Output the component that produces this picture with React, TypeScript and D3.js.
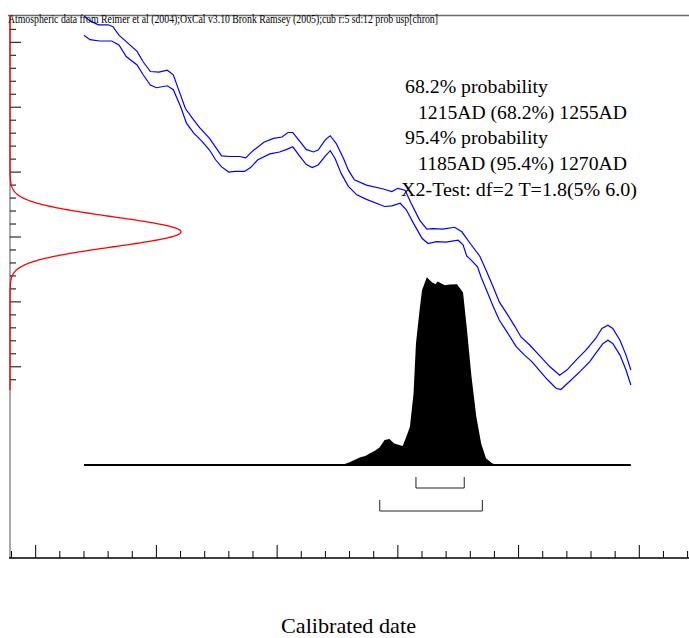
import React from 'react';
import * as d3 from 'd3';

// ---- Data ----
const titleText = 'Atmospheric data from Reimer et al (2004);OxCal v3.10 Bronk Ramsey (2005);cub r:5 sd:12 prob usp[chron]';
const statLines = [
  '68.2% probability',
  '1215AD (68.2%) 1255AD',
  '95.4% probability',
  '1185AD (95.4%) 1270AD',
  'X2-Test: df=2 T=1.8(5% 6.0)',
];
const xAxisLabel = 'Calibrated date';

// calibration curve, upper (+1 sigma) line: calendar year AD, radiocarbon BP
const upperYears = [940, 945, 952, 960, 964, 969, 975, 984, 989, 995, 1002, 1009, 1014, 1018, 1024, 1031, 1036, 1044, 1054, 1061, 1069, 1074, 1080, 1089, 1097, 1104, 1109, 1113, 1119, 1124, 1130, 1134, 1140, 1144, 1149, 1155, 1159, 1164, 1174, 1188, 1195, 1200, 1206, 1211, 1218, 1224, 1229, 1237, 1247, 1253, 1260, 1268, 1273, 1279, 1284, 1291, 1297, 1302, 1309, 1317, 1326, 1334, 1340, 1348, 1356, 1364, 1369, 1374, 1378, 1384, 1389, 1393];
const upperBP = [1141, 1133, 1127, 1127, 1124, 1111, 1101, 1086, 1070, 1055, 1054, 1057, 1050, 1029, 998, 980, 968, 952, 925, 924, 924, 922, 933, 946, 952, 954, 961, 961, 947, 935, 931, 934, 950, 956, 944, 921, 903, 888, 880, 874, 870, 875, 872, 852, 826, 812, 813, 812, 815, 808, 790, 770, 749, 723, 700, 680, 662, 646, 634, 618, 600, 587, 595, 611, 626, 644, 659, 664, 659, 641, 618, 595];

// calibration curve, lower (-1 sigma) line
const lowerYears = [940, 945, 953, 963, 969, 975, 984, 989, 995, 1000, 1009, 1014, 1020, 1025, 1031, 1038, 1044, 1049, 1054, 1060, 1065, 1073, 1078, 1084, 1094, 1102, 1108, 1113, 1119, 1124, 1129, 1134, 1140, 1144, 1148, 1153, 1159, 1166, 1174, 1189, 1195, 1202, 1207, 1213, 1220, 1225, 1232, 1240, 1250, 1254, 1257, 1261, 1266, 1269, 1275, 1279, 1284, 1291, 1298, 1305, 1311, 1317, 1324, 1331, 1335, 1342, 1351, 1359, 1364, 1370, 1374, 1378, 1384, 1389, 1393];
const lowerBP = [1111, 1104, 1102, 1102, 1096, 1078, 1065, 1050, 1034, 1030, 1033, 1027, 1001, 975, 960, 947, 934, 919, 908, 900, 901, 901, 907, 919, 928, 931, 935, 939, 924, 912, 907, 911, 925, 933, 921, 898, 878, 865, 858, 847, 848, 852, 842, 821, 798, 790, 793, 792, 795, 788, 771, 764, 754, 738, 711, 693, 672, 652, 631, 618, 608, 595, 580, 567, 565, 577, 593, 608, 621, 636, 641, 636, 618, 595, 572];

// calibrated (posterior) distribution
const postYears = [1150, 1156, 1160, 1164, 1169, 1173, 1177, 1181, 1185, 1189, 1193, 1197, 1202, 1204, 1207, 1210, 1213, 1215, 1218, 1220, 1224, 1228, 1231, 1233, 1236, 1239, 1243, 1249, 1254, 1257, 1261, 1265, 1269, 1273, 1278, 1282];
const postProb = [0, 0.005, 0.014, 0.027, 0.041, 0.048, 0.062, 0.076, 0.094, 0.133, 0.138, 0.115, 0.105, 0.101, 0.151, 0.204, 0.381, 0.647, 0.824, 0.931, 1, 0.975, 0.963, 0.977, 0.967, 0.958, 0.961, 0.963, 0.919, 0.736, 0.47, 0.257, 0.115, 0.036, 0.009, 0];
const postRange = [940, 1393];

// ranges
const range68 = [1215, 1255];
const range95 = [1185, 1270];

// radiocarbon measurement
const c14Mean = 808;
const c14Sd = 23;
const c14Span = [564, 1142];

// axis ticks
const xTickValues = d3.range(880, 1441, 20);
const yTickValues = d3.range(580, 1121, 20);

const FONT = '"Liberation Serif", "Times New Roman", serif';

export default function App() {
  const x = d3.scaleLinear().domain([1000, 1400]).range([156.4, 639.3]);
  const y = d3.scaleLinear().domain([800, 1100]).range([237, 42.3]);
  const pY = d3.scaleLinear().domain([0, 1]).range([465, 277.3]);
  const gX = d3.scaleLinear().domain([0, 1]).range([10, 181]);

  const line = d3.line<[number, number]>().x((d) => x(d[0])).y((d) => y(d[1]));
  const upperPath = line(upperYears.map((yr, i) => [yr, upperBP[i]]));
  const lowerPath = line(lowerYears.map((yr, i) => [yr, lowerBP[i]]));

  const area = d3
    .area<[number, number]>()
    .x((d) => x(d[0]))
    .y0(pY(0))
    .y1((d) => pY(d[1]));
  const postPath = area(postYears.map((yr, i) => [yr, postProb[i]]));

  const bpSamples = d3.range(c14Span[0], c14Span[1] + 0.5, 1);
  const gauss = d3
    .line<number>()
    .x((bp) => gX(Math.exp(-((bp - c14Mean) ** 2) / (2 * c14Sd * c14Sd))))
    .y((bp) => y(bp));
  const redPath = gauss(bpSamples);

  const bracket = (r: number[], top: number, bottom: number) =>
    `M${x(r[0])},${top}V${bottom}H${x(r[1])}V${top}`;

  const statX = [405, 418, 405, 418, 401];
  const statY = [93, 119, 144, 170, 196];
  const statW = [143, 209, 143, 209, 236];

  return (
    <svg
      width={689}
      height={638}
      style={{ position: 'absolute', left: 0, top: 0, background: '#fff' }}
    >
      <rect x={0} y={0} width={689} height={638} fill="#fff" />
      {/* frame */}
      <line x1={8} x2={689} y1={15.5} y2={15.5} stroke="#6a6a6a" strokeWidth={1.5} />
      <line x1={10} x2={10} y1={15} y2={558} stroke="#858585" strokeWidth={1.4} />
      <line x1={9} x2={689} y1={558} y2={558} stroke="#000" strokeWidth={1.6} />

      {/* y ticks */}
      {yTickValues.map((v) => (
        <line
          key={'yt' + v}
          x1={10}
          x2={v % 100 === 0 ? 21 : 16}
          y1={y(v)}
          y2={y(v)}
          stroke="#000"
          strokeWidth={1}
        />
      ))}
      {/* x ticks */}
      {xTickValues.map((v) => (
        <line
          key={'xt' + v}
          x1={x(v)}
          x2={x(v)}
          y1={558}
          y2={v % 100 === 0 ? 545 : 551}
          stroke="#000"
          strokeWidth={1}
        />
      ))}

      {/* calibration curve */}
      <path d={upperPath || ''} fill="none" stroke="#0000ff" strokeWidth={1.2} />
      <path d={lowerPath || ''} fill="none" stroke="#0000ff" strokeWidth={1.2} />

      {/* radiocarbon date */}
      <path d={redPath || ''} fill="none" stroke="#ff0000" strokeWidth={1.3} />

      {/* posterior */}
      <path d={postPath || ''} fill="#000" stroke="none" />
      <line
        x1={x(postRange[0])}
        x2={x(postRange[1])}
        y1={465}
        y2={465}
        stroke="#000"
        strokeWidth={2}
      />

      {/* ranges */}
      <path d={bracket(range68, 477, 488)} fill="none" stroke="#222" strokeWidth={1} />
      <path d={bracket(range95, 500, 511)} fill="none" stroke="#222" strokeWidth={1} />

      {/* title */}
      <text
        x={8}
        y={22.5}
        fontFamily={FONT}
        fontSize={12}
        textLength={430}
        lengthAdjust="spacingAndGlyphs"
        fill="#000"
      >
        {titleText}
      </text>

      {/* stats */}
      {statLines.map((s, i) => (
        <text
          key={'s' + i}
          x={statX[i]}
          y={statY[i]}
          fontFamily={FONT}
          fontSize={18}
          textLength={statW[i]}
          lengthAdjust="spacingAndGlyphs"
          fill="#000"
        >
          {s}
        </text>
      ))}

      {/* x axis label */}
      <text
        x={281}
        y={633}
        fontFamily={FONT}
        fontSize={21}
        textLength={135}
        lengthAdjust="spacingAndGlyphs"
        fill="#000"
      >
        {xAxisLabel}
      </text>
    </svg>
  );
}
